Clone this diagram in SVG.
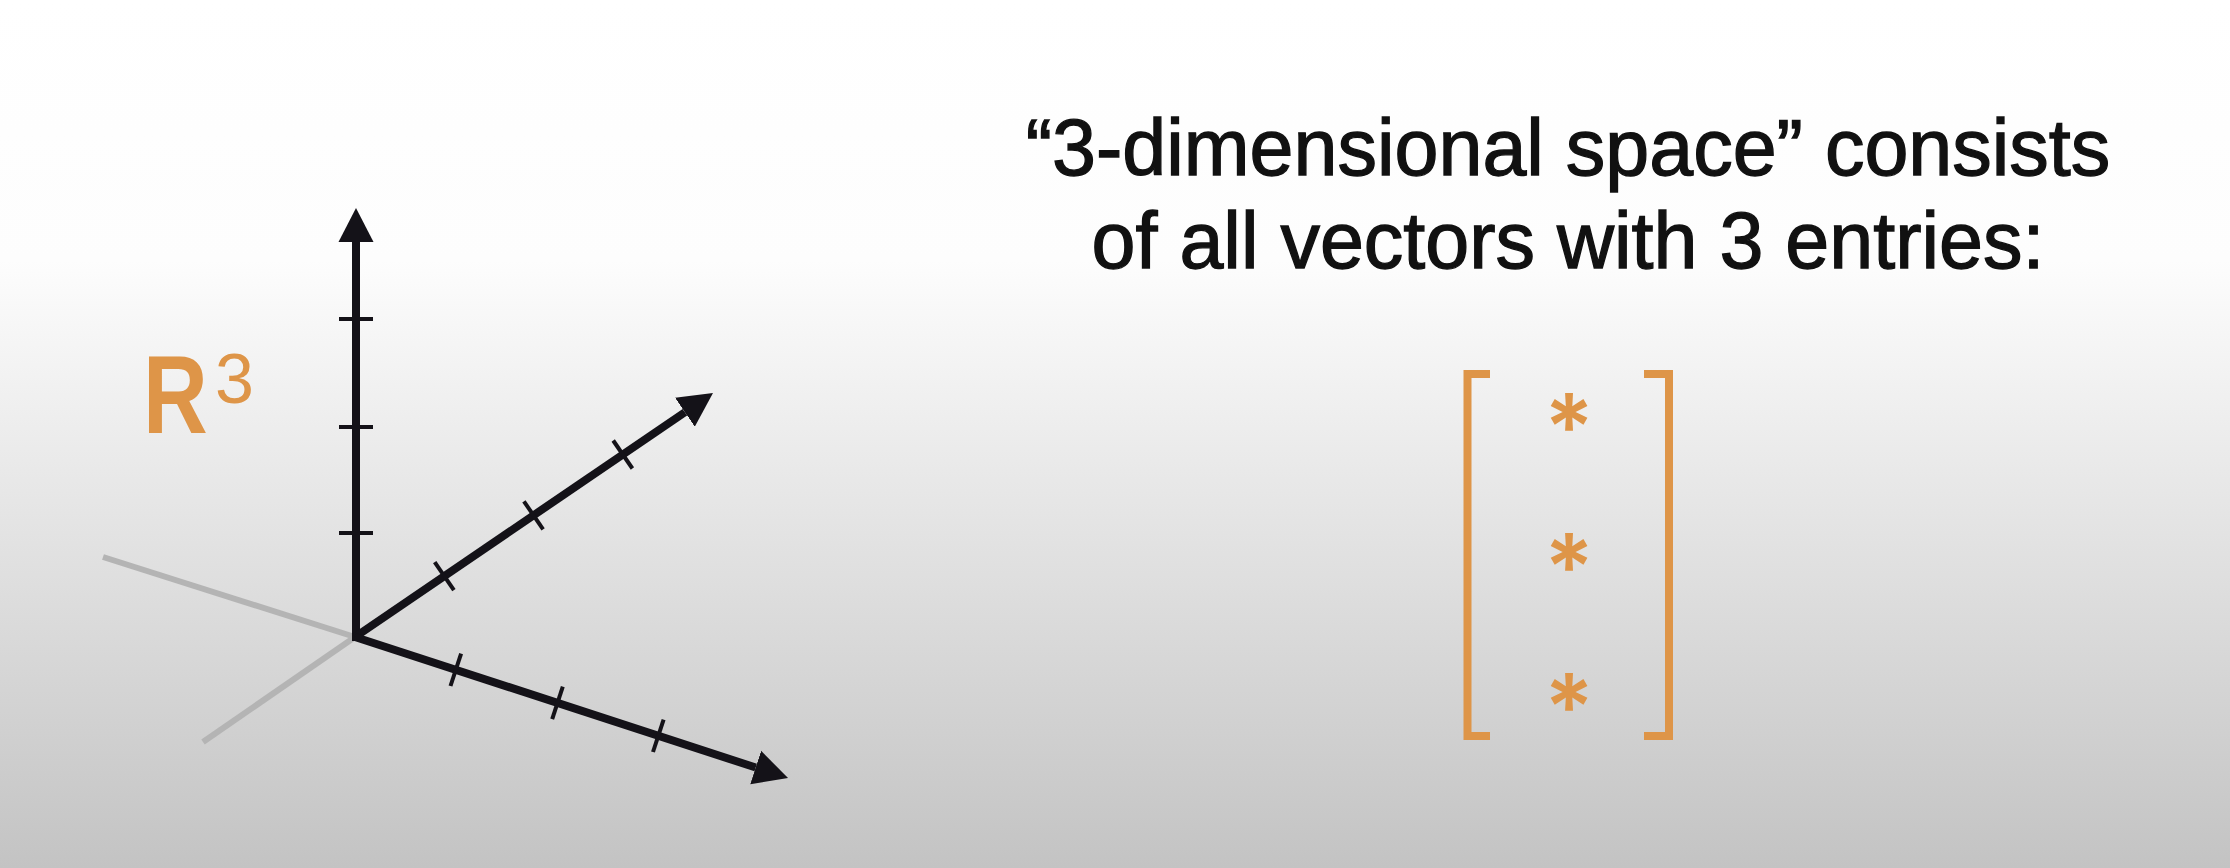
<svg xmlns="http://www.w3.org/2000/svg" width="2230" height="868" viewBox="0 0 2230 868">
<defs>
<linearGradient id="bg" x1="0" y1="0" x2="0" y2="1">
<stop offset="0" stop-color="#ffffff"/>
<stop offset="0.3" stop-color="#fdfdfd"/>
<stop offset="1" stop-color="#c3c3c3"/>
</linearGradient>
<marker id="arr" markerUnits="userSpaceOnUse" markerWidth="40" markerHeight="40" viewBox="0 -20 40 40" refX="0" refY="0" orient="auto">
<path d="M0,-17.5 L34,0 L0,17.5 z" fill="#141218"/>
</marker>
<style>
.axis{stroke:#141218;stroke-width:8;fill:none}
.tick{stroke:#141218;stroke-width:4;fill:none}
.ghost{stroke:#b4b4b4;stroke-width:6;fill:none}
.orange{fill:#de9548}
.brk{stroke:#de9548;stroke-width:8;fill:none;stroke-linejoin:miter}
.txt{font-family:"Liberation Sans",Arial,sans-serif;font-size:79px;fill:#111111;stroke:#111111;stroke-width:1.3;text-anchor:middle}
.star{font-family:Inter,"Liberation Sans",sans-serif;font-size:92px;font-weight:600;text-anchor:middle}
</style>
</defs>
<rect width="2230" height="868" fill="url(#bg)"/>
<g id="axes">
<line class="ghost" x1="355" y1="637" x2="103" y2="557"/>
<line class="ghost" x1="355" y1="637" x2="203" y2="742"/>
<line class="axis" x1="356" y1="641" x2="356" y2="242" marker-end="url(#arr)"/>
<line class="axis" x1="355" y1="637" x2="684.9" y2="412.2" marker-end="url(#arr)"/>
<line class="axis" x1="355" y1="637" x2="755.7" y2="767.5" marker-end="url(#arr)"/>
<line class="tick" x1="339" y1="319" x2="373" y2="319"/>
<line class="tick" x1="339" y1="427" x2="373" y2="427"/>
<line class="tick" x1="339" y1="533" x2="373" y2="533"/>
<line class="tick" x1="434.7" y1="562.2" x2="453.9" y2="590.2"/>
<line class="tick" x1="523.9" y1="501.3" x2="543.1" y2="529.3"/>
<line class="tick" x1="613.2" y1="440.5" x2="632.4" y2="468.5"/>
<line class="tick" x1="461.1" y1="653.6" x2="450.5" y2="686"/>
<line class="tick" x1="562.8" y1="686.7" x2="552.2" y2="719.1"/>
<line class="tick" x1="663.6" y1="719.6" x2="653" y2="752"/>
</g>
<g id="label">
<text transform="translate(143,433) scale(0.8,1)" x="0" y="0" class="orange" font-family="Liberation Sans, Arial, sans-serif" font-weight="bold" font-size="112">R</text>
<text x="215" y="403" class="orange" font-family="Liberation Sans, Arial, sans-serif" font-size="70">3</text>
</g>
<g id="caption">
<text class="txt" x="1568" y="175">“3-dimensional space” consists</text>
<text class="txt" x="1568" y="268">of all vectors with 3 entries:</text>
</g>
<g id="vector">
<path class="brk" d="M1490,374 H1467.5 V736 H1490"/>
<path class="brk" d="M1644,374 H1669 V736 H1644"/>
<text class="star orange" x="1569" y="460">*</text>
<text class="star orange" x="1569" y="600">*</text>
<text class="star orange" x="1569" y="740">*</text>
</g>
</svg>
